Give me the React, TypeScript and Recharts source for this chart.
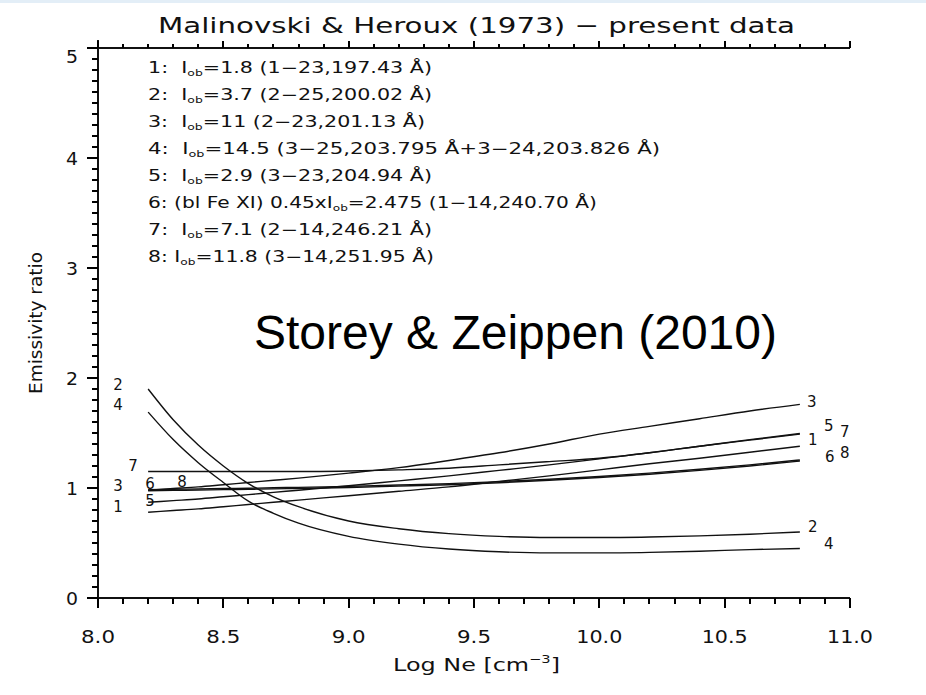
import React from 'react';
import { LineChart, Line, XAxis, YAxis } from 'recharts';

// ---- data ----
const logNe = [8.2, 8.3, 8.4, 8.5, 8.6, 8.7, 8.8, 9.0, 9.2, 9.4, 9.6, 9.8, 10.0, 10.2, 10.4, 10.6, 10.8];
const ratio1 = [0.78, 0.795, 0.81, 0.83, 0.85, 0.87, 0.89, 0.93, 0.97, 1.01, 1.06, 1.11, 1.165, 1.22, 1.27, 1.325, 1.38];
const ratio2 = [1.9, 1.62, 1.39, 1.2, 1.04, 0.92, 0.83, 0.7, 0.63, 0.585, 0.56, 0.55, 0.55, 0.555, 0.565, 0.58, 0.6];
const ratio3 = [0.98, 0.995, 1.01, 1.03, 1.05, 1.07, 1.09, 1.135, 1.185, 1.25, 1.32, 1.4, 1.49, 1.56, 1.63, 1.7, 1.76];
const ratio4 = [1.69, 1.44, 1.23, 1.05, 0.88, 0.77, 0.68, 0.56, 0.49, 0.445, 0.42, 0.41, 0.41, 0.415, 0.425, 0.44, 0.45];
const ratio5 = [0.87, 0.885, 0.9, 0.92, 0.94, 0.96, 0.98, 1.02, 1.065, 1.11, 1.16, 1.21, 1.265, 1.32, 1.38, 1.44, 1.495];
const ratio6 = [0.975, 0.978, 0.981, 0.985, 0.988, 0.992, 0.996, 1.005, 1.017, 1.03, 1.048, 1.07, 1.095, 1.125, 1.16, 1.2, 1.245];
const ratio7 = [1.15, 1.15, 1.15, 1.15, 1.15, 1.15, 1.15, 1.155, 1.165, 1.18, 1.21, 1.24, 1.27, 1.32, 1.38, 1.435, 1.49];
const ratio8 = [0.985, 0.988, 0.991, 0.995, 0.998, 1.002, 1.006, 1.015, 1.027, 1.04, 1.058, 1.08, 1.105, 1.135, 1.17, 1.21, 1.255];

const seriesNames = ['1', '2', '3', '4', '5', '6', '7', '8'];
const xMajorTicks = [8.0, 8.5, 9.0, 9.5, 10.0, 10.5, 11.0];
const yMajorTicks = [0, 1, 2, 3, 4, 5];

const legendNums = ['1:', '2:', '3:', '4:', '5:', '6:', '7:', '8:'];
const legendPre = ['  I', '  I', '  I', '  I', '  I', ' (bl Fe XI) 0.45xI', '  I', ' I'];
const legendPost = [
  '=1.8 (1\u221223,197.43 \u00c5)',
  '=3.7 (2\u221225,200.02 \u00c5)',
  '=11 (2\u221223,201.13 \u00c5)',
  '=14.5 (3\u221225,203.795 \u00c5+3\u221224,203.826 \u00c5)',
  '=2.9 (3\u221223,204.94 \u00c5)',
  '=2.475 (1\u221214,240.70 \u00c5)',
  '=7.1 (2\u221214,246.21 \u00c5)',
  '=11.8 (3\u221214,251.95 \u00c5)',
];

const titleText = 'Malinovski & Heroux (1973) \u2212 present data';
const noteText = 'Storey & Zeippen (2010)';
const yTitle = 'Emissivity ratio';

// ---- styling / layout ----
const INK = '#111';
const FONT = '"DejaVu Sans", sans-serif';
const legendLengths = [284, 284, 277, 512, 284, 449, 284, 286];

const W = 926;
const H = 695;
const PLOT_L = 98;
const PLOT_T = 48;
const PLOT_R = 850;
const PLOT_B = 598;
const X_DOMAIN: [number, number] = [8, 11];
const Y_DOMAIN: [number, number] = [0, 5];

const minorX = Array.from({ length: 31 }, (_, i) => Math.round((8 + i * 0.1) * 10) / 10);
const minorY = Array.from({ length: 51 }, (_, i) => Math.round(i) / 10);

const rows = logNe.map((x, i) => ({
  x,
  r1: ratio1[i], r2: ratio2[i], r3: ratio3[i], r4: ratio4[i],
  r5: ratio5[i], r6: ratio6[i], r7: ratio7[i], r8: ratio8[i],
}));

const inList = (v: number, list: number[]) => list.some((t) => Math.abs(t - v) < 1e-6);
// axis decoration positions (same linear mapping as the chart axes)
const axX = (v: number) => PLOT_L + ((v - X_DOMAIN[0]) / (X_DOMAIN[1] - X_DOMAIN[0])) * (PLOT_R - PLOT_L);
const axY = (v: number) => PLOT_B - ((v - Y_DOMAIN[0]) / (Y_DOMAIN[1] - Y_DOMAIN[0])) * (PLOT_B - PLOT_T);

const BottomTick = (p: any) => {
  const v = Number(p.payload.value);
  const s = v.toFixed(1);
  return (
    <text x={Number(p.x)} y={Number(p.y) + 45} textAnchor="middle" fontSize={18} fontFamily={FONT} fill={INK}
      textLength={s.length > 3 ? 46 : 34} lengthAdjust="spacingAndGlyphs">{s}</text>
  );
};

const LeftTick = (p: any) => {
  const v = Number(p.payload.value);
  return (
    <text x={Number(p.x) - 20} y={Number(p.y) + 7 + (v === 5 ? 8 : 0)} textAnchor="end" fontSize={18} fontFamily={FONT}
      fill={INK} textLength={12} lengthAdjust="spacingAndGlyphs">{String(v)}</text>
  );
};

// label offsets (px) from first / last point of each curve
const labelOffsets: Record<string, [[number, number], [number, number]]> = {
  '1': [[-30, -5], [13, -6]],
  '2': [[-30, -4], [13, -5]],
  '3': [[-30, -4], [12, -2]],
  '4': [[-30, -7], [29, -5]],
  '5': [[2, -1], [29, -8]],
  '6': [[2, -7], [30, -4]],
  '7': [[-15, -6], [45, -2]],
  '8': [[34, -8], [45, -7]],
};

const makeLabel = (name: string) => (p: any) => {
  const idx = p.index;
  const last = logNe.length - 1;
  if (idx !== 0 && idx !== last) return null;
  const x = Number(p.x ?? p.viewBox?.x);
  const y = Number(p.y ?? p.viewBox?.y);
  const [dx, dy] = idx === 0 ? labelOffsets[name][0] : labelOffsets[name][1];
  return (
    <text key={`lab-${name}-${idx}`} x={x + dx} y={y + dy} textAnchor="middle" dominantBaseline="central"
      fontSize={15} fontFamily={FONT} fill={INK}>{name}</text>
  );
};

export default function App() {
  return (
    <div style={{ position: 'absolute', left: 0, top: 0, width: W, height: H, background: '#fff', overflow: 'hidden' }}>
      <div style={{ position: 'absolute', left: 0, top: 0, width: W, height: 3, background: '#e3eef7' }} />
      <LineChart width={W} height={H} data={rows} margin={{ top: PLOT_T, right: W - PLOT_R, bottom: 0, left: 0 }}>
        <XAxis xAxisId="b" orientation="bottom" height={H - PLOT_B} type="number" dataKey="x" domain={X_DOMAIN}
          ticks={xMajorTicks} interval={0} tick={BottomTick} tickLine={false} tickSize={0} tickMargin={0}
          axisLine={{ stroke: INK, strokeWidth: 2 }} allowDataOverflow />
        <YAxis yAxisId="l" orientation="left" width={PLOT_L} type="number" domain={Y_DOMAIN}
          ticks={yMajorTicks} interval={0} tick={LeftTick} tickLine={false} tickSize={0} tickMargin={0}
          axisLine={{ stroke: INK, strokeWidth: 2 }} allowDataOverflow />
        {seriesNames.map((n) => (
          <Line key={n} xAxisId="b" yAxisId="l" type="monotone" dataKey={`r${n}`} stroke={INK}
            strokeWidth={1.4} dot={false} activeDot={false} isAnimationActive={false}
            label={makeLabel(n)} />
        ))}
      </LineChart>
      <svg width={W} height={H} style={{ position: 'absolute', left: 0, top: 0, pointerEvents: 'none' }}>
        {/* top axis and extended left axis */}
        <line x1={PLOT_L} x2={PLOT_R} y1={PLOT_T} y2={PLOT_T} stroke={INK} strokeWidth={2} />
        <line x1={PLOT_L} x2={PLOT_L} y1={PLOT_T - 8} y2={PLOT_B + 2} stroke={INK} strokeWidth={2} />
        <g stroke="#000" strokeWidth={2} shapeRendering="crispEdges">
          {minorX.map((v) => {
            const maj = inList(v, xMajorTicks);
            const x = Math.round(axX(v));
            return (
              <g key={`xt${v}`}>
                <line x1={x} x2={x} y1={PLOT_B} y2={PLOT_B + (maj ? 10 : 6)} />
                <line x1={x} x2={x} y1={PLOT_T} y2={PLOT_T - (maj ? 7 : 4)} />
              </g>
            );
          })}
          {minorY.map((v) => {
            const maj = inList(v, yMajorTicks);
            const y = Math.round(axY(v));
            return <line key={`yt${v}`} x1={PLOT_L} x2={PLOT_L - (maj ? 11 : 6)} y1={y} y2={y} />;
          })}
        </g>
        <text x={158} y={33} fontSize={22} fontFamily={FONT} fill={INK} textLength={637} lengthAdjust="spacingAndGlyphs">{titleText}</text>
        {legendNums.map((num, i) => (
          <text key={num} x={148} y={73 + i * 27} fontSize={15} fontFamily={FONT} fill={INK}
            style={{ whiteSpace: 'pre' }} textLength={legendLengths[i]} lengthAdjust="spacingAndGlyphs">
            {num}{legendPre[i]}
            <tspan dy={3} fontSize={9}>ob</tspan>
            <tspan dy={-3}>{legendPost[i]}</tspan>
          </text>
        ))}
        <text x={254} y={349} fontSize={48} fontFamily='"Liberation Sans", Arial, sans-serif' fill="#000">{noteText}</text>
        <text transform="translate(42,323) rotate(-90)" textAnchor="middle" fontSize={17} fontFamily={FONT} fill={INK}
          textLength={142} lengthAdjust="spacingAndGlyphs">{yTitle}</text>
        <text x={393} y={671} fontSize={18} fontFamily={FONT} fill={INK} textLength={167} lengthAdjust="spacingAndGlyphs">
          Log Ne [cm<tspan dy={-8} fontSize={11}>{'\u22123'}</tspan><tspan dy={8}>]</tspan>
        </text>
      </svg>
    </div>
  );
}
